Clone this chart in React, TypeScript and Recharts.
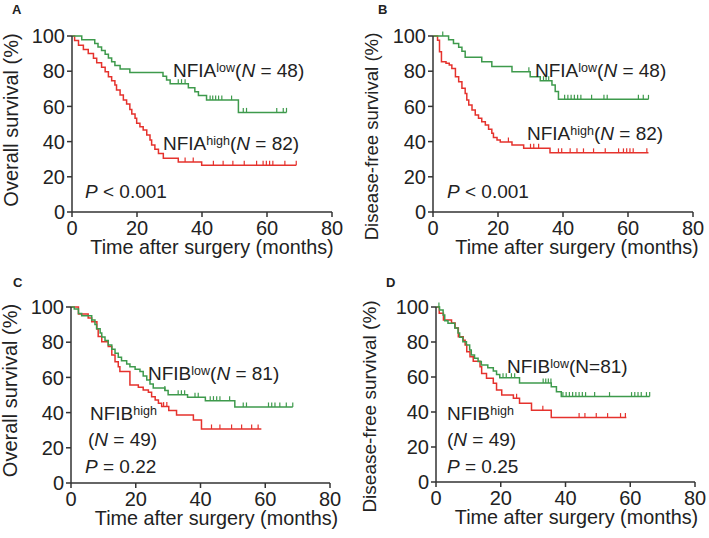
import { ComposedChart, Line, Scatter, XAxis, YAxis, Label } from 'recharts';

const FONT = '"Liberation Sans", Arial, Helvetica, sans-serif';
const GREEN = '#3e9a4c';
const RED = '#e5322d';
const AXIS = '#333333';

const xTicks = [0, 20, 40, 60, 80];
const yTicks = [0, 20, 40, 60, 80, 100];

// [months, survival %] step points; last pair = end of follow-up
// A: overall survival by NFIA
const osNfiaLow = [
  [0, 100], [3, 97.9], [7, 95.8], [8, 93.8], [9.1, 91.7], [10.2, 89.6], [11.2, 87.5],
  [12.2, 85.4], [13.2, 83.3], [14.8, 81.3], [17.8, 79.2], [28, 77.1], [29.1, 75],
  [30.2, 72.9], [35.8, 70.6], [37.8, 68.3], [38.9, 66.2], [41.4, 63.6], [51.2, 56.6], [66, 56.6],
];
const osNfiaLowCensor = [32.7, 33.7, 34.8, 42.5, 43.3, 44.2, 45.1, 46.1, 49.1, 52.7, 53.7, 63, 65, 66];
const osNfiaHigh = [
  [0, 100], [0.8, 97.5], [2, 94.8], [3.5, 92.4], [5, 90], [6.6, 87.3], [7.6, 84.8],
  [9.1, 82.2], [10.2, 79.7], [11.2, 76.9], [12.2, 74.6], [13.2, 72.2], [13.7, 69.3],
  [14.8, 66.5], [15.8, 63.6], [16.8, 61.4], [17.8, 58.3], [18.4, 55.7], [19.4, 53.2],
  [19.9, 50.4], [20.9, 48.5], [21.9, 46.6], [23, 43.8], [24, 40.9], [24.5, 38.1],
  [25.5, 35.6], [26.6, 33.3], [28.1, 30.6], [32.7, 28.4], [39.9, 26.5], [69, 26.5],
];
const osNfiaHighCensor = [34.8, 37.3, 43.5, 46.5, 49.5, 53, 56.8, 58.8, 59.8, 60.8, 61.8, 65.5, 69];

// B: disease-free survival by NFIA
const dfsNfiaLow = [
  [0, 100], [4.8, 97.9], [6.3, 95.8], [7.9, 93.6], [8.9, 91.3], [9.9, 87.9], [15, 85.4],
  [18.1, 82.7], [24.3, 79.7], [29.9, 76.9], [33, 74.6], [36.6, 72.2], [37.6, 68.4],
  [38.6, 64], [66.3, 64],
];
const dfsNfiaLowCensor = [
  3, 29.5, 34, 34.8, 35.6, 40.5, 41.5, 42.5, 43.5, 44.5, 45.5, 48.8, 52.6, 53.6, 63.2, 64.7, 66.3,
];
const dfsNfiaHigh = [
  [0, 100], [1.4, 97.6], [2, 91], [2.6, 85.4], [4, 84.5], [5, 83.5], [5.8, 81.6],
  [6.9, 76.9], [7.9, 74], [8.9, 70.3], [9.9, 67.4], [10.4, 63.6], [11, 60.8], [12, 58],
  [13, 55.1], [14, 53.2], [15, 51.3], [16.1, 49.4], [17.1, 47], [18.1, 44.7], [18.6, 42.4],
  [19.7, 40.9], [20.7, 39.8], [24.3, 38.1], [27.9, 36.2], [36, 33.6], [66.3, 33.6],
];
const dfsNfiaHighCensor = [
  23.2, 30, 31, 32.5, 38.6, 39.6, 42.2, 44.3, 46.3, 49.4, 53, 57.1, 58.6, 59.6, 60.6, 61.6, 65.8,
];

// C: overall survival by NFIB
const osNfibLow = [
  [0, 100], [1, 98.8], [2.3, 96.3], [3.3, 95], [6.4, 92.6], [7.4, 90.1], [7.9, 87.7],
  [9, 85.2], [9.5, 83], [10.5, 80.9], [11.5, 78.4], [12.6, 76], [13.6, 73.7], [14.6, 71.4],
  [15.6, 69.5], [17.2, 67.6], [18.2, 66.1], [19.8, 64.6], [21.3, 63.3], [22.3, 60.8],
  [23.4, 58.5], [24.4, 56.3], [25.4, 54], [29, 52.5], [30, 50.2], [36, 48.7], [41.5, 46.8],
  [50.6, 43.2], [68.5, 43.2],
];
const osNfibLowCensor = [
  29, 33.1, 34.1, 35.1, 38.3, 39.3, 43, 44, 45, 46, 49, 53.2, 54.2, 61, 62, 63, 64.5, 66.5, 68.5,
];
const osNfibHigh = [
  [0, 100], [2.3, 96], [5.3, 93.8], [6.4, 91.6], [8, 87.5], [8.4, 83.3], [9.5, 80.3],
  [11.5, 77.5], [12.6, 72.7], [13.6, 68.9], [14.6, 66.1], [15.1, 63.3], [18.2, 55.7],
  [20.8, 54.4], [22.3, 52.8], [23.9, 51.5], [24.9, 49], [26, 47.2], [27, 45.3], [28, 43.4],
  [30.2, 41.2], [32.6, 38.6], [37.8, 35.8], [40.3, 30.7], [58.8, 30.7],
];
const osNfibHighCensor = [28.6, 29.6, 43.4, 46, 49.6, 52.7, 55.8, 57.8];

// D: disease-free survival by NFIB
const dfsNfibLow = [
  [0, 100], [1.1, 98.3], [2.2, 95.4], [2.7, 92.2], [3.7, 90.7], [5.8, 88], [6.8, 85.2],
  [7.3, 82.7], [8.3, 80.2], [9.4, 78.3], [10.4, 75.4], [10.9, 72.6], [11.9, 70.7], [13, 68.8],
  [14, 66.9], [16, 65.3], [17.7, 63.5], [18.7, 61.5], [19.7, 59.6], [25.8, 56.6],
  [35.6, 54.4], [37.2, 51.6], [38.7, 48.8], [66, 48.8],
];
const dfsNfibLowCensor = [
  0.9, 20.7, 21.7, 23.3, 24.3, 33.1, 33.9, 34.7, 35.5, 39.2, 40.2, 41.2, 42.2, 43.2, 44.2,
  45.2, 46.2, 49, 53.6, 60.4, 61.4, 62.4, 63.4, 65, 66,
];
const dfsNfibHigh = [
  [0, 100], [1, 96.4], [2.3, 92.6], [4.8, 90.9], [5.9, 88], [6.9, 83], [8.4, 81], [9, 78.3],
  [9.5, 74.5], [10.5, 71.6], [11.5, 69], [13.6, 65.9], [14.1, 62], [15.6, 59.3], [17.7, 56.4],
  [18.7, 52.6], [20.3, 49.7], [23.9, 47.8], [25.8, 45], [29.5, 41], [35.6, 36.8], [58.8, 36.8],
];
const dfsNfibHighCensor = [24.9, 33, 44.2, 46, 49.5, 53, 57, 58.5];

type Pt = { t: number; s: number };

const toPts = (pairs: number[][]): Pt[] => pairs.map(([t, s]) => ({ t, s }));

// survival level of the step curve at time t (censor marks sit on the curve)
const levelAt = (pairs: number[][], t: number) => {
  let s = pairs[0][1];
  for (const [pt, ps] of pairs) if (pt <= t) s = ps;
  return s;
};

const censorPts = (pairs: number[][], times: number[]): Pt[] =>
  times.map((t) => ({ t, s: levelAt(pairs, t) }));

const censorShape = (color: string) => (p: any) => {
  if (p == null || p.cx == null || p.cy == null) return <g />;
  return (
    <line x1={p.cx} x2={p.cx} y1={p.cy - 4.5} y2={p.cy} stroke={color} strokeWidth={1.2} />
  );
};

type PanelProps = {
  left: number;
  top: number;
  width: number;
  height: number;
  marginTop: number;
  marginRight: number;
  yAxisWidth: number;
  xAxisHeight: number;
  yTitle: string;
  yTitleSize: number;
  yTitleGap: number;
  yTitleDy: number;
  xTitleDx: number;
  xTitleDy: number;
  low: number[][];
  lowCensor: number[];
  high: number[][];
  highCensor: number[];
};

const Panel = (p: PanelProps) => {
  const XTitle = (props: any) => {
    const vb = props.viewBox || { x: 0, y: 0, width: 0, height: 0 };
    return (
      <text
        x={vb.x + vb.width / 2 + p.xTitleDx}
        y={vb.y + p.xTitleDy}
        textAnchor="middle"
        fontSize={19.8}
        fontFamily={FONT}
        fill="#222"
      >
        Time after surgery (months)
      </text>
    );
  };
  const YTitle = (props: any) => {
    const vb = props.viewBox || { x: 0, y: 0, width: 0, height: 0 };
    const x = vb.x + vb.width - p.yTitleGap;
    const y = vb.y + vb.height / 2 + p.yTitleDy;
    return (
      <text
        x={x}
        y={y}
        transform={`rotate(-90, ${x}, ${y})`}
        textAnchor="middle"
        fontSize={p.yTitleSize}
        fontFamily={FONT}
        fill="#222"
      >
        {p.yTitle}
      </text>
    );
  };
  const tick = { fontSize: 20, fill: '#222', fontFamily: FONT };
  return (
    <div style={{ position: 'absolute', left: p.left, top: p.top }}>
      <ComposedChart
        width={p.width}
        height={p.height}
        margin={{ top: p.marginTop, right: p.marginRight, left: 0, bottom: 0 }}
      >
        <XAxis
          type="number"
          dataKey="t"
          domain={[0, 80]}
          ticks={xTicks}
          interval={0}
          height={p.xAxisHeight}
          tickSize={5}
          tickMargin={4}
          tick={tick}
          axisLine={{ stroke: AXIS, strokeWidth: 1.5 }}
          tickLine={{ stroke: AXIS, strokeWidth: 1.5 }}
        >
          <Label content={XTitle} />
        </XAxis>
        <YAxis
          type="number"
          dataKey="s"
          domain={[0, 100]}
          ticks={yTicks}
          interval={0}
          width={p.yAxisWidth}
          tickSize={5}
          tickMargin={2}
          tick={tick}
          axisLine={{ stroke: AXIS, strokeWidth: 1.5 }}
          tickLine={{ stroke: AXIS, strokeWidth: 1.5 }}
        >
          <Label content={YTitle} />
        </YAxis>
        <Line
          data={toPts(p.high)}
          dataKey="s"
          type="stepAfter"
          stroke={RED}
          strokeWidth={1.5}
          dot={false}
          isAnimationActive={false}
        />
        <Line
          data={toPts(p.low)}
          dataKey="s"
          type="stepAfter"
          stroke={GREEN}
          strokeWidth={1.5}
          dot={false}
          isAnimationActive={false}
        />
        <Scatter
          data={censorPts(p.high, p.highCensor)}
          dataKey="s"
          shape={censorShape(RED)}
          isAnimationActive={false}
        />
        <Scatter
          data={censorPts(p.low, p.lowCensor)}
          dataKey="s"
          shape={censorShape(GREEN)}
          isAnimationActive={false}
        />
      </ComposedChart>
    </div>
  );
};

const Sup = ({ children }: { children: string }) => (
  <tspan fontSize={12.5} dy={-5}>
    {children}
  </tspan>
);

const Annotations = () => (
  <svg
    width={709}
    height={538}
    style={{ position: 'absolute', left: 0, top: 0, pointerEvents: 'none' }}
    fontFamily={FONT}
    fill="#222"
  >
    <g fontWeight="bold" fontSize={13}>
      <text x={12} y={14}>A</text>
      <text x={378} y={14}>B</text>
      <text x={13} y={287}>C</text>
      <text x={386} y={287}>D</text>
    </g>
    <g fontSize={19}>
      <text x={173} y={77}>
        NFIA<Sup>low</Sup>
        <tspan dy={5}>(</tspan>
        <tspan fontStyle="italic">N</tspan> = 48)
      </text>
      <text x={163} y={150}>
        NFIA<Sup>high</Sup>
        <tspan dy={5}>(</tspan>
        <tspan fontStyle="italic">N</tspan> = 82)
      </text>
      <text x={85} y={198}>
        <tspan fontStyle="italic">P</tspan> &lt; 0.001
      </text>

      <text x={535} y={77}>
        NFIA<Sup>low</Sup>
        <tspan dy={5}>(</tspan>
        <tspan fontStyle="italic">N</tspan> = 48)
      </text>
      <text x={527} y={140}>
        NFIA<Sup>high</Sup>
        <tspan dy={5}>(</tspan>
        <tspan fontStyle="italic">N</tspan> = 82)
      </text>
      <text x={447} y={198}>
        <tspan fontStyle="italic">P</tspan> &lt; 0.001
      </text>

      <text x={148} y={380}>
        NFIB<Sup>low</Sup>
        <tspan dy={5}>(</tspan>
        <tspan fontStyle="italic">N</tspan> = 81)
      </text>
      <text x={90} y={420}>
        NFIB<Sup>high</Sup>
      </text>
      <text x={88} y={446}>
        (<tspan fontStyle="italic">N</tspan> = 49)
      </text>
      <text x={85} y={473}>
        <tspan fontStyle="italic">P</tspan> = 0.22
      </text>

      <text x={507} y={373}>
        NFIB<Sup>low</Sup>
        <tspan dy={5}>(N=81)</tspan>
      </text>
      <text x={447} y={420}>
        NFIB<Sup>high</Sup>
      </text>
      <text x={447} y={446}>
        (<tspan fontStyle="italic">N</tspan> = 49)
      </text>
      <text x={447} y={473}>
        <tspan fontStyle="italic">P</tspan> = 0.25
      </text>
    </g>
  </svg>
);

const App = () => (
  <div
    style={{
      position: 'absolute',
      left: 0,
      top: 0,
      width: 709,
      height: 538,
      background: '#fff',
      fontFamily: FONT,
    }}
  >
    <Panel
      left={0}
      top={0}
      width={354}
      height={268}
      marginTop={36}
      marginRight={22}
      yAxisWidth={72}
      xAxisHeight={56}
      yTitle="Overall survival (%)"
      yTitleSize={20}
      yTitleGap={54}
      yTitleDy={-4}
      xTitleDx={10}
      xTitleDy={42}
      low={osNfiaLow}
      lowCensor={osNfiaLowCensor}
      high={osNfiaHigh}
      highCensor={osNfiaHighCensor}
    />
    <Panel
      left={354}
      top={0}
      width={355}
      height={268}
      marginTop={36}
      marginRight={16}
      yAxisWidth={79}
      xAxisHeight={56}
      yTitle="Disease-free survival (%)"
      yTitleSize={18.6}
      yTitleGap={55}
      yTitleDy={12.5}
      xTitleDx={14}
      xTitleDy={42}
      low={dfsNfiaLow}
      lowCensor={dfsNfiaLowCensor}
      high={dfsNfiaHigh}
      highCensor={dfsNfiaHighCensor}
    />
    <Panel
      left={0}
      top={268}
      width={354}
      height={270}
      marginTop={39}
      marginRight={24}
      yAxisWidth={71}
      xAxisHeight={55}
      yTitle="Overall survival (%)"
      yTitleSize={20}
      yTitleGap={54}
      yTitleDy={-4.5}
      xTitleDx={16}
      xTitleDy={42}
      low={osNfibLow}
      lowCensor={osNfibLowCensor}
      high={osNfibHigh}
      highCensor={osNfibHighCensor}
    />
    <Panel
      left={354}
      top={268}
      width={355}
      height={270}
      marginTop={39}
      marginRight={14}
      yAxisWidth={82}
      xAxisHeight={56}
      yTitle="Disease-free survival (%)"
      yTitleSize={19}
      yTitleGap={60}
      yTitleDy={12}
      xTitleDx={11}
      xTitleDy={42}
      low={dfsNfibLow}
      lowCensor={dfsNfibLowCensor}
      high={dfsNfibHigh}
      highCensor={dfsNfibHighCensor}
    />
    <Annotations />
  </div>
);

export default App;
